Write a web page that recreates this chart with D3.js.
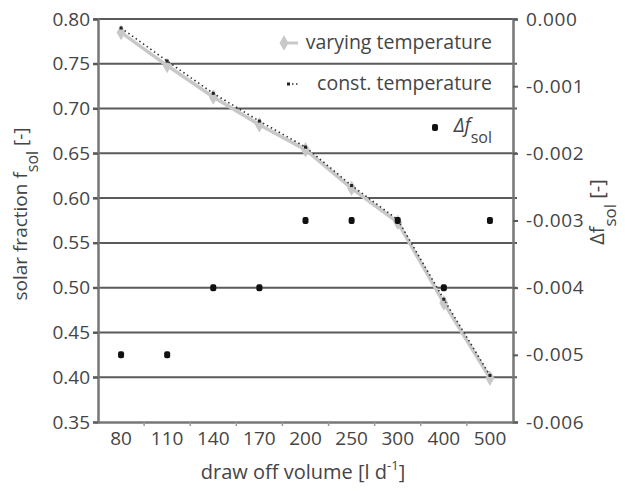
<!DOCTYPE html>
<html>
<head>
<meta charset="utf-8">
<script src="https://cdn.jsdelivr.net/npm/d3@7"></script>
<style>
  html, body { margin: 0; padding: 0; background: #fff; }
  svg { display: block; font-family: "Open Sans", "DejaVu Sans", sans-serif; }
</style>
</head>
<body>
<svg id="chart" width="625" height="491"></svg>
<script>
// Draw-off volume categories [l/d]
const volumes = ["80", "110", "140", "170", "200", "250", "300", "400", "500"];
// Solar fraction with varying cold-water temperature
const fVarying = [0.785, 0.748, 0.713, 0.682, 0.654, 0.611, 0.573, 0.483, 0.399];
// Solar fraction with constant cold-water temperature
const fConst = [0.790, 0.753, 0.717, 0.686, 0.657, 0.614, 0.576, 0.487, 0.402];
// Difference of solar fraction (right axis)
const deltaF = [-0.005, -0.005, -0.004, -0.004, -0.003, -0.003, -0.003, -0.004, -0.003];
// Axis tick values
const leftTicks = [0.35, 0.40, 0.45, 0.50, 0.55, 0.60, 0.65, 0.70, 0.75, 0.80];
const rightTicks = [0, -0.001, -0.002, -0.003, -0.004, -0.005, -0.006];

const svg = d3.select("#chart");
const plot = { left: 98, right: 513, top: 19, bottom: 422 };

const x = d3.scaleBand().domain(volumes).range([plot.left, plot.right]).padding(0);
const yL = d3.scaleLinear().domain([0.35, 0.80]).range([plot.bottom, plot.top]);
const yR = d3.scaleLinear().domain([-0.006, 0]).range([plot.bottom, plot.top]);
const cx = v => x(v) + x.bandwidth() / 2;

const textColor = "#454545";
const tickFont = 19;
const titleFont = 20;

// Horizontal gridlines
svg.append("g")
  .selectAll("line")
  .data(leftTicks.slice(1))
  .join("line")
  .attr("x1", plot.left - 5).attr("x2", plot.right + 4)
  .attr("y1", d => yL(d)).attr("y2", d => yL(d))
  .attr("stroke", "#5a5a5a").attr("stroke-width", 2);

// Left axis
const gL = svg.append("g").attr("transform", `translate(${plot.left},0)`)
  .call(d3.axisLeft(yL).tickValues(leftTicks).tickFormat(d3.format(".2f")).tickSize(5).tickPadding(3));
gL.select(".domain").attr("stroke", "#777").attr("stroke-width", 2.5);
gL.selectAll(".tick line").attr("stroke", "#5a5a5a").attr("stroke-width", 2);
gL.selectAll(".tick text").attr("fill", textColor).attr("font-size", tickFont)
  .attr("font-family", "'Open Sans', sans-serif");

// Right axis
const gR = svg.append("g").attr("transform", `translate(${plot.right},0)`)
  .call(d3.axisRight(yR).tickValues(rightTicks).tickFormat(d3.format(".3f")).tickSize(5).tickPadding(8));
gR.select(".domain").attr("stroke", "#777").attr("stroke-width", 2.5);
gR.selectAll(".tick line").attr("stroke", "#5a5a5a").attr("stroke-width", 2);
gR.selectAll(".tick text").attr("fill", textColor).attr("font-size", tickFont)
  .attr("font-family", "'Open Sans', sans-serif")
  .attr("letter-spacing", 0.6)
  .text(d => d3.format(".3f")(d).replace("−", "-"));

// Bottom axis
const gB = svg.append("g").attr("transform", `translate(0,${plot.bottom})`)
  .call(d3.axisBottom(x).tickSize(0).tickPadding(10));
gB.select(".domain").attr("stroke", "#777").attr("stroke-width", 2.5);
gB.selectAll(".tick text").attr("fill", textColor).attr("font-size", tickFont)
  .attr("font-family", "'Open Sans', sans-serif");
// Category boundary marks
svg.append("g").selectAll("line")
  .data(volumes.slice(1))
  .join("line")
  .attr("x1", d => x(d)).attr("x2", d => x(d))
  .attr("y1", plot.bottom).attr("y2", plot.bottom + 4)
  .attr("stroke", "#999").attr("stroke-width", 1.5);

// Varying temperature series
const lineL = d3.line().x((d, i) => cx(volumes[i])).y(d => yL(d));
svg.append("path").datum(fVarying)
  .attr("d", lineL).attr("fill", "none")
  .attr("stroke", "#c8c8c8").attr("stroke-width", 3.5);
const diamond = d3.symbol().type(d3.symbolDiamond).size(70);
svg.append("g").selectAll("path")
  .data(fVarying).join("path")
  .attr("d", diamond)
  .attr("transform", (d, i) => `translate(${cx(volumes[i])},${yL(d)})`)
  .attr("fill", "#c8c8c8");

// Constant temperature series
svg.append("path").datum(fConst)
  .attr("d", lineL).attr("fill", "none")
  .attr("stroke", "#333").attr("stroke-width", 1.6)
  .attr("stroke-dasharray", "1.5,3");
svg.append("g").selectAll("rect")
  .data(fConst).join("rect")
  .attr("x", (d, i) => cx(volumes[i]) - 1.5).attr("y", d => yL(d) - 1.5)
  .attr("width", 3).attr("height", 3).attr("fill", "#222");

// Delta solar fraction points (right axis)
svg.append("g").selectAll("rect")
  .data(deltaF).join("rect")
  .attr("x", (d, i) => cx(volumes[i]) - 3).attr("y", d => yR(d) - 3.5)
  .attr("width", 6).attr("height", 7).attr("rx", 2)
  .attr("fill", "#111");

// Legend
const leg = svg.append("g").attr("fill", textColor);
const legRight = 492;
const legFont = 19.5;
leg.append("path").attr("d", d3.symbol().type(d3.symbolDiamond).size(70)())
  .attr("transform", "translate(284,43)").attr("fill", "#c8c8c8");
leg.append("line").attr("x1", 284).attr("x2", 298).attr("y1", 43).attr("y2", 43)
  .attr("stroke", "#c8c8c8").attr("stroke-width", 3);
leg.append("text").attr("x", legRight).attr("y", 42).attr("dy", "0.35em")
  .attr("text-anchor", "end").attr("font-size", legFont).text("varying temperature");

leg.append("line").attr("x1", 292).attr("x2", 300).attr("y1", 84).attr("y2", 84)
  .attr("stroke", "#333").attr("stroke-width", 1.6).attr("stroke-dasharray", "1.5,2.5");
leg.append("rect").attr("x", 287).attr("y", 82.5).attr("width", 3).attr("height", 3).attr("fill", "#222");
leg.append("text").attr("x", legRight).attr("y", 83).attr("dy", "0.35em")
  .attr("text-anchor", "end").attr("font-size", legFont).text("const. temperature");

leg.append("rect").attr("x", 432).attr("y", 124).attr("width", 6).attr("height", 7).attr("rx", 2).attr("fill", "#111");
const lt = leg.append("text").attr("x", legRight).attr("y", 125).attr("dy", "0.35em")
  .attr("text-anchor", "end").attr("font-size", legFont);
lt.append("tspan").attr("font-style", "italic").text("Δf");
lt.append("tspan").attr("baseline-shift", "sub").attr("font-size", 16).text("sol");

// Axis titles
const tL = svg.append("text")
  .attr("transform", "translate(27,214) rotate(-90)")
  .attr("text-anchor", "middle").attr("font-size", 19).attr("fill", textColor);
tL.append("tspan").text("solar fraction  f");
tL.append("tspan").attr("baseline-shift", "sub").attr("font-size", 16).text("sol");
tL.append("tspan").text(" [-]");

const tR = svg.append("text")
  .attr("transform", "translate(604,212) rotate(-90)")
  .attr("text-anchor", "middle").attr("font-size", titleFont).attr("fill", textColor);
tR.append("tspan").text("Δf");
tR.append("tspan").attr("baseline-shift", "sub").attr("font-size", 17).text("sol");
tR.append("tspan").text("  [-]");

const tB = svg.append("text")
  .attr("x", 303).attr("y", 479)
  .attr("text-anchor", "middle").attr("font-size", titleFont).attr("fill", textColor);
tB.append("tspan").text("draw off volume  [l d");
tB.append("tspan").attr("baseline-shift", "super").attr("font-size", 13).text("-1");
tB.append("tspan").text("]");
</script>
</body>
</html>
